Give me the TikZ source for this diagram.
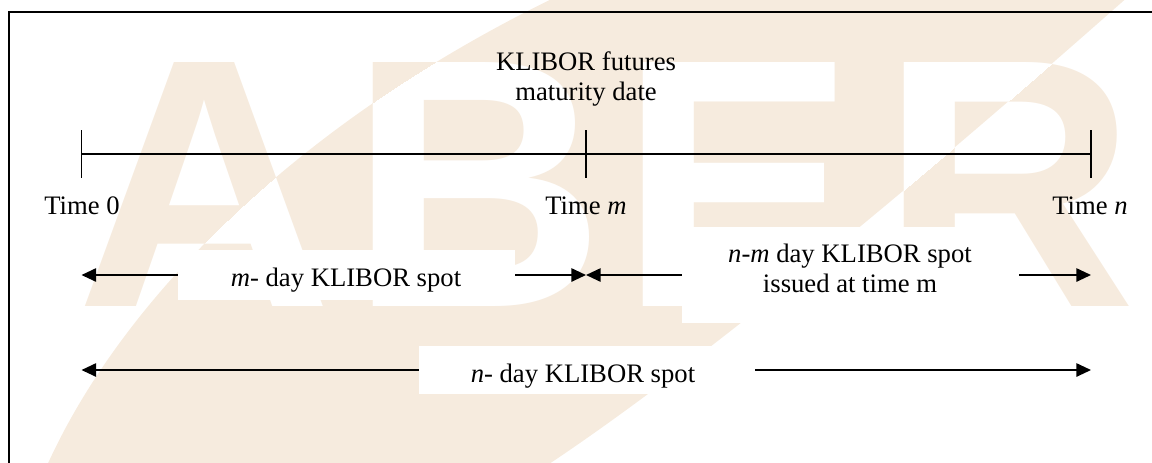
\documentclass[tikz,border=0pt]{standalone}
\usepackage{fontspec}
\setmainfont{Liberation Serif}
\newfontfamily\wmfont{Liberation Sans}
\usetikzlibrary{arrows.meta}
\definecolor{peach}{RGB}{246,235,222}
\newcommand\mywm[2]{%
  \node[wm,text=#1] (wA#2) at (205,306) {A};
  \node[wm,text=#1] (wB#2) at (478,306) {B};
  \node[wm,text=#1] (wE#2) at (738,306) {E};
  \node[wm,text=#1] (wR#2) at (1009,306) {R};
}
\begin{document}
\begin{tikzpicture}[x=0.75pt,y=-0.75pt,
  wm/.style={anchor=base,inner sep=0,font=\wmfont\bfseries\fontsize{266}{266}\selectfont},
  lbl/.style={inner sep=0,anchor=base,font=\fontsize{20}{24}\selectfont},
  wbox/.style={fill=white,draw=none,inner sep=0,minimum width=252.75pt},
  tline/.style={line width=1.4pt},
  arr/.style={line width=1.4pt,-{Triangle[length=11pt,width=10pt]}},
  frame/.style={line width=1.7pt,line join=miter}
]
\useasboundingbox (0,0) rectangle (1152,462);
% watermark
\mywm{peach}{o}
\begin{scope}
  \clip (45,470) .. controls (120,300) and (300,120) .. (560,-5) -- (1130,-5) .. controls (1000,110) and (730,345) .. (540,470) -- cycle;
  \fill[peach] (-5,-5) rectangle (1160,470);
  \mywm{white}{i}
\end{scope}
% frame
\draw[frame] (9,475) -- (9,12) -- (1165,12);
% timeline
\coordinate (t0) at (81.5,154);
\coordinate (tm) at (586,154);
\coordinate (tn) at (1091,154);
\draw[tline] (t0) -- (tn);
\draw[tline] (t0) ++(0,-24) -- ++(0,48);
\draw[tline] (tm) ++(0,-24) -- ++(0,48);
\draw[tline] (tn) ++(0,-24) -- ++(0,48);
% labels
\node[lbl] (kl1) at (586,70) {KLIBOR futures};
\node[lbl] (kl2) at (586,100) {maturity date};
\node[lbl] (lt0) at (82,214) {Time 0};
\node[lbl] (ltm) at (586,214) {Time \textit{m}};
\node[lbl] (ltn) at (1090,214) {Time \textit{n}};
% boxes
\node[wbox,minimum height=37.5pt] (mbox) at (346.5,275) {};
\node[wbox,minimum height=72pt] (nmbox) at (850.5,275) {};
\node[wbox,minimum height=36pt,minimum width=252pt] (nbox) at (587,370) {};
\node[lbl] (mlab) at (346,286) {\textit{m}- day KLIBOR spot};
\node[lbl] (nm1) at (850,262) {\textit{n-m} day KLIBOR spot};
\node[lbl] (nm2) at (850,292) {issued at time m};
\node[lbl] (nlab) at (583,382) {\textit{n}- day KLIBOR spot};
% arrow ends
\coordinate (a0) at (81.5,275);
\coordinate (am) at (586,275);
\coordinate (an) at (1091,275);
\coordinate (b0) at (81.5,370);
\coordinate (bn) at (1091,370);
\draw[arr] (mbox.west) -- (a0);
\draw[arr] (mbox.east) -- (am);
\draw[arr] (nmbox.west) -- (am);
\draw[arr] (nmbox.east) -- (an);
\draw[arr] (nbox.west) -- (b0);
\draw[arr] (nbox.east) -- (bn);
\end{tikzpicture}
\end{document}
